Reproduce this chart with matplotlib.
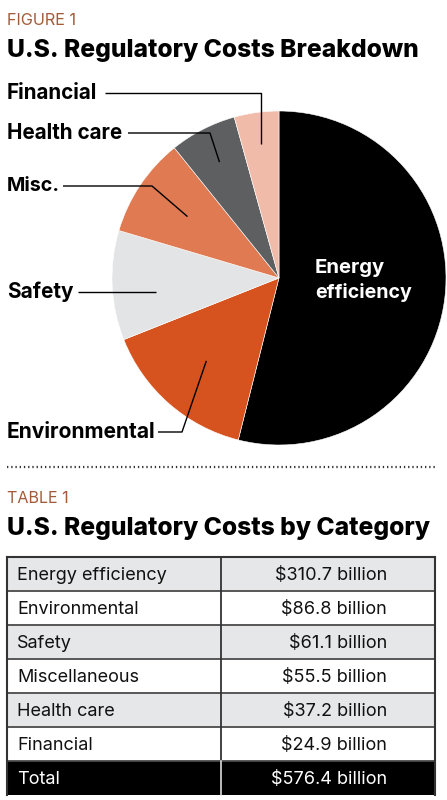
import numpy as np
import matplotlib
matplotlib.use("Agg")
import matplotlib.pyplot as plt
from matplotlib.patches import Rectangle

# ---- data ----
categories = ["Energy efficiency", "Environmental", "Safety", "Miscellaneous", "Health care", "Financial"]
pie_labels = ["Energy\nefficiency", "Environmental", "Safety", "Misc.", "Health care", "Financial"]
values = [310.7, 86.8, 61.1, 55.5, 37.2, 24.9]
total_label = "Total"
total_value = 576.4
colors = ["#000000", "#D6531F", "#E3E4E5", "#E07A52", "#5E5F61", "#F0BCA9"]

W, H = 447, 800
FONT = "Inter"
plt.rcParams["font.family"] = [FONT, "DejaVu Sans"]
fig = plt.figure(figsize=(W / 100, H / 100), dpi=100)
ax = fig.add_axes([0, 0, 1, 1])


def Y(ypx):
    return H - ypx


fig.canvas.draw()
renderer = fig.canvas.get_renderer()


def fit_text(x, y, s, target_w, **kw):
    t = ax.text(x, y, s, fontsize=12, **kw)
    w = t.get_window_extent(renderer).width
    t.set_fontsize(12 * target_w / w)
    return t


# ---- header ----
fit_text(7, Y(25), "FIGURE 1", 70, color="#A35A3A", va="baseline", ha="left", weight="normal")
fit_text(7, Y(57), "U.S. Regulatory Costs Breakdown", 413, color="black", weight="heavy",
         va="baseline", ha="left")

# ---- pie ----
cx, cy, R = 279, Y(278), 167
wedges, _ = ax.pie(values, colors=colors, startangle=90, counterclock=False,
                   center=(cx, cy), radius=R,
                   wedgeprops=dict(edgecolor="white", linewidth=0.4))
ax.set_xlim(0, W)
ax.set_ylim(0, H)
ax.set_aspect("auto")
ax.axis("off")


def wedge_point(i, frac):
    w = wedges[i]
    a = np.deg2rad((w.theta1 + w.theta2) / 2)
    return cx + R * frac * np.cos(a), cy + R * frac * np.sin(a)


# Energy efficiency label inside
fit_text(315, Y(268), "Energy", 70, color="white", weight="bold", va="center", ha="left")
fit_text(315, Y(292), "efficiency", 96, color="white", weight="bold", va="center", ha="left")

# (index, label y px, text width px, line start x px, elbow x px, radius frac)
leader = [
    (5, 93, 90, 105, None, 0.81),
    (4, 133, 115, 128, 210, 0.78),
    (3, 186, 53, 63, 152, 0.66),
    (2, 292, 66, 78, None, 0.74),
    (1, 432, 148, 158, 182, 0.66),
]
for i, ypx, tw, x0, xe, frac in leader:
    fit_text(7, Y(ypx), pie_labels[i], tw, color="black", weight="bold",
             va="center", ha="left")
    px, py = wedge_point(i, frac)
    if i == 5:
        xs, ys = [x0, px, px], [Y(ypx), Y(ypx), py]
    elif i == 2:
        xs, ys = [x0, px], [Y(ypx), Y(ypx)]
    else:
        xs, ys = [x0, xe, px], [Y(ypx), Y(ypx), py]
    ax.plot(xs, ys, color="black", lw=1.0, solid_capstyle="butt")

# ---- dotted separator ----
ax.plot([7, 436], [Y(467), Y(467)], color="#333333", lw=1.6, linestyle=(0, (0.6, 1.3)),
        dash_capstyle="butt")

# ---- table header ----
fit_text(7, Y(503), "TABLE 1", 62, color="#A35A3A", va="baseline", ha="left", weight="normal")
fit_text(7, Y(535), "U.S. Regulatory Costs by Category", 423, color="black", weight="heavy",
         va="baseline", ha="left")

# ---- table ----
top, rh = 557, 34
x_left, x_div, x_right = 7, 221, 435
rows = [(c, f"${v:.1f} billion") for c, v in zip(categories, values)]
rows.append((total_label, f"${total_value:.1f} billion"))

probe = ax.text(0, 0, categories[0], fontsize=12)
tfs = 12 * 150 / probe.get_window_extent(renderer).width
probe.remove()

for k, (c, v) in enumerate(rows):
    y0 = top + k * rh
    is_total = k == len(rows) - 1
    fc = "black" if is_total else ("#E6E7E8" if k % 2 == 0 else "white")
    ax.add_patch(Rectangle((x_left, Y(y0 + rh)), x_right - x_left, rh, facecolor=fc,
                           edgecolor="none", zorder=1))
    tc = "white" if is_total else "#111111"
    ax.text(17, Y(y0 + rh / 2 + 1), c, color=tc, fontsize=tfs, va="center", ha="left", zorder=3)
    ax.text(387, Y(y0 + rh / 2 + 1), v, color=tc, fontsize=tfs, va="center", ha="right", zorder=3)
    if not is_total:
        ax.plot([x_left, x_right], [Y(y0 + rh), Y(y0 + rh)], color="#4A4A4A", lw=1.3, zorder=2)

bottom = top + len(rows) * rh
ax.plot([x_left, x_right], [Y(top), Y(top)], color="#333333", lw=1.5, zorder=2)
ax.plot([x_left, x_left], [Y(top), Y(bottom)], color="#333333", lw=1.5, zorder=2)
ax.plot([x_right, x_right], [Y(top), Y(bottom)], color="#333333", lw=1.5, zorder=2)
ax.plot([x_div, x_div], [Y(top), Y(bottom - rh)], color="#333333", lw=1.3, zorder=2)
ax.plot([x_div, x_div], [Y(bottom - rh), Y(bottom)], color="#DDDDDD", lw=1.2, zorder=2)

fig.savefig("out.png", dpi=100, facecolor="white")
